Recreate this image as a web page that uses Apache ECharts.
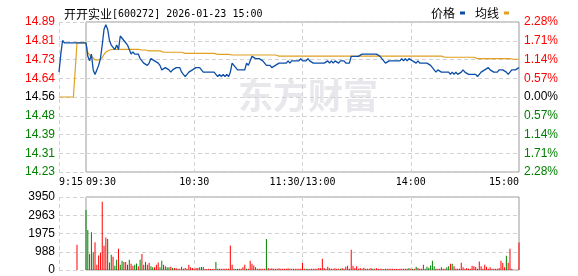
<!DOCTYPE html>
<html><head><meta charset="utf-8">
<script src="https://cdn.jsdelivr.net/npm/echarts@6/dist/echarts.min.js"></script>
<style>html,body{margin:0;padding:0;background:#fff}#c{width:578px;height:276px}</style>
</head><body><div id="c"></div><script>
// ---------- data ----------
const stockName = '开开实业';
const stockCode = '600272';
const stamp = '2026-01-23 15:00';
const basePrice = 14.56;
const seriesNames = ['价格', '均线'];

const priceLabels = ['14.23','14.31','14.39','14.48','14.56','14.64','14.73','14.81','14.89'];
const pctLabels = ['2.28%','1.71%','1.14%','0.57%','0.00%','0.57%','1.14%','1.71%','2.28%'];
const volLabels = ['0','988','1975','2963','3950'];

const preTimes = ['9:15','9:16','9:17','9:18','9:19','9:20','9:21','9:22','9:23','9:24','9:25','9:26','9:27','9:28','9:29','9:30'];
const prePrice = [14.67,14.75,14.81,14.80,14.80,14.80,14.80,14.80,14.80,14.80,14.80,14.80,14.80,14.80,14.80,14.80];
const preAvg = [14.56,14.56,14.56,14.56,14.56,14.56,14.56,14.56,14.56,14.56,14.80,14.80,14.80,14.80,14.80,14.80];
const preVolume = [0,0,0,0,0,0,0,0,0,0,1360,0,0,0,0,0];
const preDir = 'RRRRRRRRRRRRRRRR';

const mainPrice = [
14.80,14.74,14.72,14.75,14.68,14.66,14.68,14.70,14.73,14.79,
14.86,14.88,14.86,14.81,14.79,14.78,14.77,14.79,14.77,14.83,
14.82,14.81,14.80,14.79,14.77,14.75,14.76,14.75,14.75,14.75,
14.73,14.72,14.71,14.71,14.70,14.71,14.73,14.73,14.72,14.72,
14.71,14.70,14.68,14.68,14.69,14.69,14.68,14.67,14.68,14.68,
14.69,14.69,14.69,14.67,14.66,14.65,14.66,14.67,14.67,14.68,
14.68,14.69,14.69,14.69,14.68,14.67,14.67,14.67,14.67,14.67,
14.67,14.67,14.66,14.65,14.66,14.65,14.66,14.65,14.66,14.65,
14.67,14.71,14.71,14.69,14.68,14.68,14.68,14.68,14.68,14.71,
14.70,14.72,14.74,14.74,14.73,14.73,14.73,14.73,14.72,14.71,
14.70,14.70,14.70,14.69,14.69,14.70,14.70,14.71,14.71,14.71,
14.71,14.71,14.72,14.71,14.72,14.72,14.72,14.72,14.72,14.73,
14.72,14.72,14.72,14.73,14.72,14.72,14.71,14.71,14.71,14.71,
14.71,14.71,14.71,14.71,14.72,14.71,14.72,14.71,14.72,14.72,
14.71,14.72,14.72,14.72,14.71,14.71,14.71,14.74,14.74,14.74,
14.74,14.74,14.74,14.75,14.75,14.75,14.75,14.75,14.75,14.75,
14.75,14.75,14.75,14.74,14.73,14.72,14.71,14.71,14.72,14.72,
14.72,14.72,14.72,14.72,14.72,14.73,14.72,14.73,14.72,14.73,
14.73,14.72,14.72,14.71,14.72,14.71,14.71,14.71,14.71,14.71,
14.71,14.70,14.69,14.68,14.67,14.68,14.68,14.67,14.67,14.67,
14.67,14.67,14.66,14.67,14.66,14.67,14.66,14.66,14.67,14.68,
14.67,14.67,14.66,14.66,14.66,14.66,14.66,14.65,14.65,14.67,
14.67,14.68,14.68,14.69,14.68,14.68,14.67,14.67,14.67,14.68,
14.68,14.68,14.68,14.67,14.66,14.67,14.68,14.68,14.68,14.68,
14.69];

const mainAvg = [
14.800,14.756,14.747,14.741,14.733,14.724,14.724,14.724,14.724,14.734,
14.749,14.759,14.765,14.768,14.770,14.771,14.771,14.771,14.771,14.771,
14.771,14.771,14.771,14.771,14.771,14.771,14.771,14.771,14.771,14.771,
14.771,14.768,14.768,14.768,14.768,14.764,14.764,14.764,14.764,14.764,
14.764,14.764,14.764,14.758,14.758,14.758,14.758,14.758,14.758,14.758,
14.758,14.758,14.758,14.758,14.758,14.753,14.753,14.753,14.753,14.753,
14.753,14.753,14.753,14.753,14.753,14.753,14.753,14.753,14.753,14.753,
14.753,14.753,14.753,14.749,14.749,14.749,14.749,14.749,14.749,14.749,
14.749,14.746,14.746,14.746,14.746,14.746,14.746,14.746,14.746,14.746,
14.746,14.746,14.746,14.746,14.746,14.746,14.746,14.746,14.746,14.746,
14.746,14.746,14.746,14.746,14.746,14.746,14.746,14.741,14.741,14.741,
14.741,14.741,14.741,14.741,14.741,14.741,14.741,14.741,14.741,14.741,
14.741,14.741,14.741,14.741,14.741,14.741,14.741,14.741,14.741,14.741,
14.741,14.741,14.741,14.741,14.741,14.741,14.741,14.741,14.741,14.741,
14.741,14.741,14.741,14.741,14.741,14.741,14.741,14.741,14.741,14.741,
14.741,14.741,14.741,14.741,14.741,14.741,14.741,14.741,14.741,14.741,
14.741,14.741,14.741,14.741,14.741,14.741,14.741,14.741,14.741,14.741,
14.741,14.741,14.741,14.741,14.741,14.741,14.741,14.741,14.741,14.741,
14.741,14.741,14.741,14.741,14.741,14.741,14.741,14.741,14.741,14.741,
14.741,14.741,14.741,14.741,14.741,14.741,14.741,14.741,14.741,14.736,
14.736,14.736,14.736,14.736,14.736,14.736,14.736,14.736,14.736,14.736,
14.736,14.736,14.736,14.736,14.736,14.736,14.730,14.730,14.730,14.730,
14.730,14.730,14.730,14.730,14.730,14.730,14.730,14.730,14.730,14.730,
14.730,14.730,14.730,14.730,14.730,14.730,14.727,14.727,14.727,14.727,
14.727];

const mainVolume = [
3240,2166,860,2040,967,1504,286,788,930,3690,
1307,1754,1683,412,823,716,233,555,1146,286,
500,430,430,286,555,340,233,286,358,197,
555,860,286,430,286,394,197,143,143,286,
412,143,500,286,197,143,143,179,107,107,
90,72,72,179,72,107,72,286,143,107,
72,107,107,143,161,161,54,54,72,54,
54,54,430,72,72,72,72,72,72,72,
1325,286,72,54,72,72,72,143,286,72,
72,500,340,250,143,72,72,72,72,72,
1683,107,72,90,72,72,72,90,72,72,
72,72,90,72,72,72,72,72,72,72,
376,72,72,72,54,72,72,72,72,107,
90,609,107,72,179,90,72,72,90,72,
72,72,107,72,179,233,72,1092,233,107,
197,72,107,72,125,72,72,72,107,72,
72,90,72,72,72,54,72,72,72,72,
72,54,72,54,72,72,72,72,72,107,
72,72,72,179,107,72,72,286,72,179,
125,250,500,197,72,72,72,143,72,72,
143,197,340,340,197,72,72,72,394,143,
72,107,72,72,233,197,161,72,465,197,
72,286,179,72,143,72,72,72,72,107,
500,376,143,770,394,1146,72,0,0,0,
1486];

const mainDir =
'GGRGGRRRRR' + 'RRGRGRGGRG' + 'GRRGGRRGGR' + 'GRGGRRGGRR' + 'RGGRRGGRGR' +
'RRRGRRRRRR' + 'RRRGGGRRRR' + 'RRGRRRRRRR' + 'RRGGGRRRRG' + 'RRRRGRRRRR' +
'GRRRRRRRRR' + 'RRRRRRRRRR' + 'RRGRRRRRRR' + 'RRRRRRRRRR' + 'RGRRRRRRRR' +
'RRRRRRGRRG' + 'RRRRRRGRRR' + 'RRRRRRRRRG' + 'RGRGRRRRGG' + 'GGGGRRRGRR' +
'GGRGRRRRRR' + 'RRRRRRRRRR' + 'RRRRRRRRRR' + 'RRRGRRRRRR' + 'R';

// session minutes: 09:30..11:30, 13:01..15:00
function buildTimes() {
  const out = [];
  const pad = n => (n < 10 ? '0' : '') + n;
  for (let t = 9 * 60 + 30; t <= 11 * 60 + 30; t++) out.push(pad(Math.floor(t / 60)) + ':' + pad(t % 60));
  for (let t = 13 * 60 + 1; t <= 15 * 60; t++) out.push(pad(Math.floor(t / 60)) + ':' + pad(t % 60));
  return out;
}
const mainTimes = buildTimes();
const mainTickIdx = [0, 60, 120, 180, 240];
const mainSplitIdx = [60, 120, 180];

// ---------- chart ----------
const RED = '#ff0000', GREEN = '#008000';
const BLUE = '#0d4ea6', ORANGE = '#e0a020';
const toPct = p => (p - basePrice) / basePrice * 100;
const idxOf = v => Math.round((parseFloat(v) + 2.28) / 0.57);
const signColor = v => { v = parseFloat(v); return v > 0.001 ? RED : (v < -0.001 ? GREEN : '#000'); };
const dash = { show: true, lineStyle: { color: '#d2d2d2', type: [4, 3], width: 1 } };
const noLine = { show: false };
const labelFont = 'Liberation Sans';
const monoFont = 'DejaVu Sans Mono';
const volItems = (vals, dir) => vals.map((v, i) => ({ value: v, itemStyle: { color: dir[i] === 'R' ? RED : GREEN } }));

const chart = echarts.init(document.getElementById('c'), null, { renderer: 'canvas' });
chart.setOption({
  animation: false,
  backgroundColor: '#fff',
  title: {
    left: 59, top: 2,
    text: '{c|' + stockName + '}{a|[' + stockCode + '] ' + stamp + '}',
    textStyle: {
      fontWeight: 'normal',
      rich: {
        c: { fontFamily: 'Noto Sans CJK SC', fontSize: 12, fontWeight: 'normal', color: '#000', lineHeight: 14 },
        a: { fontFamily: monoFont, fontSize: 10, fontWeight: 'normal', color: '#000', lineHeight: 14 }
      }
    }
  },
  legend: {
    right: 64, top: 2, align: 'right', icon: 'rect', itemWidth: 5, itemHeight: 3, itemGap: 10,
    data: seriesNames,
    textStyle: { fontFamily: 'Noto Sans CJK SC', fontSize: 12, color: '#000' },
    selectedMode: false
  },
  graphic: [{
    type: 'text', left: 238, top: 78, silent: true, z: -10,
    style: { text: '东方财富', fill: '#e8e8ec', font: 'bold 35px "Noto Sans CJK SC"' }
  }],
  grid: [
    { left: 59, top: 22, width: 27, height: 150 },
    { left: 86, top: 22, width: 433, height: 150, show: true, borderColor: '#9a9a9a', borderWidth: 1 },
    { left: 59, top: 197, width: 27, height: 73 },
    { left: 86, top: 197, width: 433, height: 73, show: true, borderColor: '#9a9a9a', borderWidth: 1 }
  ],
  xAxis: [
    { type: 'category', gridIndex: 0, data: preTimes, boundaryGap: false,
      axisLine: noLine, axisTick: noLine,
      axisLabel: { interval: i => i === 0, align: 'left', margin: 5, fontFamily: monoFont, fontSize: 10, color: '#000' },
      splitLine: Object.assign({ interval: i => i === 0 }, dash) },
    { type: 'category', gridIndex: 1, data: mainTimes, boundaryGap: false,
      axisLine: noLine, axisTick: noLine,
      axisLabel: { interval: i => mainTickIdx.includes(i), margin: 5, fontFamily: monoFont, fontSize: 10, color: '#000',
        alignMinLabel: 'left', alignMaxLabel: 'right',
        formatter: v => (v === '11:30' ? '11:30/13:00' : v) },
      splitLine: Object.assign({ interval: i => mainSplitIdx.includes(i) }, dash) },
    { type: 'category', gridIndex: 2, data: preTimes, boundaryGap: false,
      axisLine: noLine, axisTick: noLine, axisLabel: noLine,
      splitLine: Object.assign({ interval: i => i === 0 }, dash) },
    { type: 'category', gridIndex: 3, data: mainTimes, boundaryGap: false,
      axisLine: noLine, axisTick: noLine, axisLabel: noLine,
      splitLine: Object.assign({ interval: i => mainSplitIdx.includes(i) }, dash) }
  ],
  yAxis: [
    { type: 'value', gridIndex: 0, min: -2.28, max: 2.28, interval: 0.57, position: 'left',
      axisLine: noLine, axisTick: noLine, splitLine: dash,
      axisLabel: { margin: 4, fontFamily: labelFont, fontSize: 12, showMinLabel: true, showMaxLabel: true,
        formatter: v => priceLabels[idxOf(v)], color: v => signColor(v) } },
    { type: 'value', gridIndex: 1, min: -2.28, max: 2.28, interval: 0.57, position: 'right',
      axisLine: noLine, axisTick: noLine, splitLine: dash,
      axisLabel: { margin: 5, fontFamily: labelFont, fontSize: 12, showMinLabel: true, showMaxLabel: true,
        formatter: v => pctLabels[idxOf(v)], color: v => signColor(v) } },
    { type: 'value', gridIndex: 2, min: 0, max: 3950, interval: 987.5, position: 'left',
      axisLine: noLine, axisTick: noLine, splitLine: dash,
      axisLabel: { margin: 4, fontFamily: labelFont, fontSize: 12, color: '#000', showMinLabel: true, showMaxLabel: true,
        formatter: v => volLabels[Math.round(parseFloat(v) / 987.5)] } },
    { type: 'value', gridIndex: 3, min: 0, max: 3950, interval: 987.5, position: 'right',
      axisLine: noLine, axisTick: noLine, splitLine: dash, axisLabel: noLine }
  ],
  series: [
    { name: seriesNames[1], type: 'line', xAxisIndex: 0, yAxisIndex: 0, data: preAvg.map(toPct),
      symbol: 'none', color: ORANGE, lineStyle: { color: ORANGE, width: 1.2 }, z: 3 },
    { name: seriesNames[0], type: 'line', xAxisIndex: 0, yAxisIndex: 0, data: prePrice.map(toPct),
      symbol: 'none', color: BLUE, lineStyle: { color: BLUE, width: 1.3 }, z: 4 },
    { name: seriesNames[1], type: 'line', xAxisIndex: 1, yAxisIndex: 1, data: mainAvg.map(toPct),
      symbol: 'none', color: ORANGE, lineStyle: { color: ORANGE, width: 1.2 }, z: 3 },
    { name: seriesNames[0], type: 'line', xAxisIndex: 1, yAxisIndex: 1, data: mainPrice.map(toPct),
      symbol: 'none', color: BLUE, lineStyle: { color: BLUE, width: 1.3 }, z: 4 },
    { name: 'vol-pre', type: 'bar', xAxisIndex: 2, yAxisIndex: 2, barWidth: 1, data: volItems(preVolume, preDir) },
    { name: 'vol', type: 'bar', xAxisIndex: 3, yAxisIndex: 3, barWidth: 1, data: volItems(mainVolume, mainDir) }
  ]
});
</script></body></html>
